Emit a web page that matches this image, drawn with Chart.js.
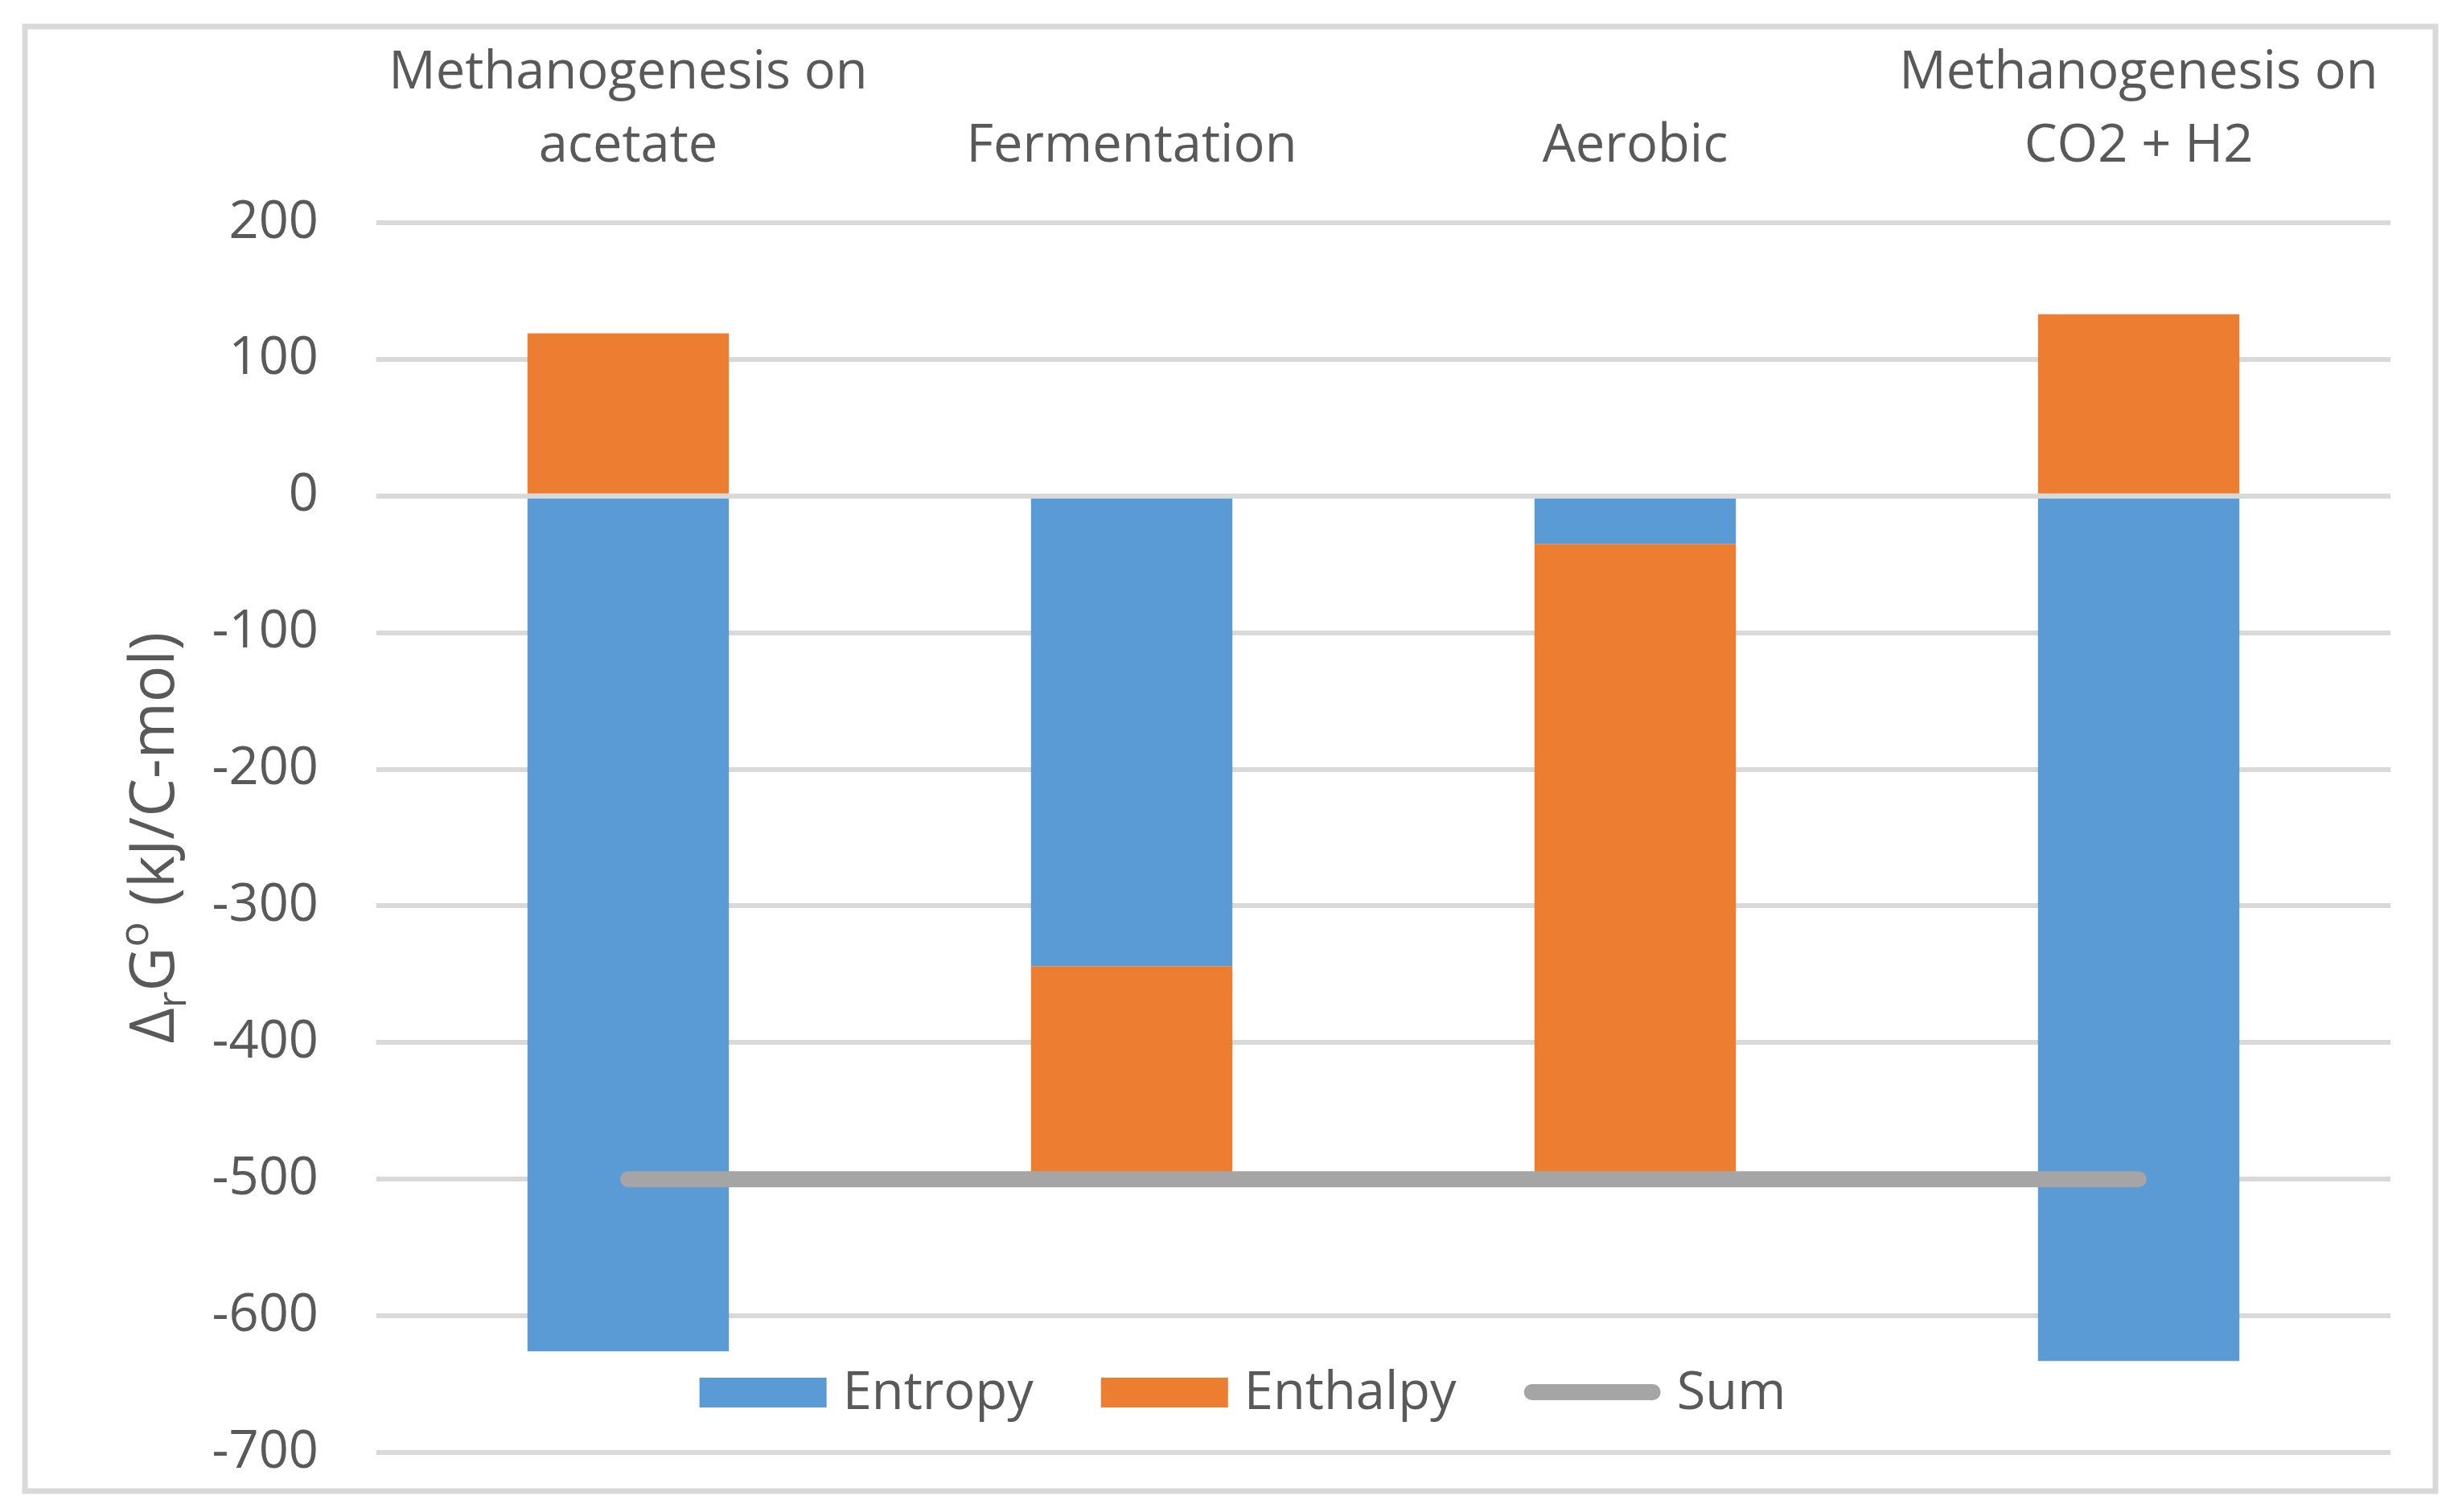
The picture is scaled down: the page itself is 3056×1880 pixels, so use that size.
<!DOCTYPE html>
<html lang="en">
<head>
  <meta charset="UTF-8" />
  <title>Reaction Gibbs energy</title>
  <script src="https://cdn.jsdelivr.net/npm/chart.js"></script>
  <style>
    html, body { margin: 0; padding: 0; background: #fff; }
    canvas { display: block; }
  </style>
</head>
<body>
  <canvas id="chart" width="3056" height="1880"></canvas>

  <script>
    // data
    const categories = [['Methanogenesis on', 'acetate'], 'Fermentation', 'Aerobic', ['Methanogenesis on', 'CO2 + H2']];
    const entropy = [-626, -344, -35, -633];
    const enthalpy = [119, -156, -465, 133];
    const sum = [-500, -500, -500, -500];
    const yMin = -700, yMax = 200, yStep = 100;

    const TEXT = '#595959';
    const GRID = '#d9d9d9';
    const FONT = "'Open Sans', 'Noto Sans', sans-serif";

    // white background + light frame
    const framePlugin = {
      id: 'frame',
      beforeDraw(chart) {
        const ctx = chart.ctx;
        ctx.save();
        ctx.fillStyle = '#fff';
        ctx.fillRect(0, 0, chart.width, chart.height);
        ctx.strokeStyle = GRID;
        ctx.lineWidth = 7;
        ctx.strokeRect(31, 33, 3028 - 31, 1854 - 33);
        ctx.restore();
      }
    };

    // zero line sits on top of the bars
    const zeroLine = {
      id: 'zeroLine',
      afterDatasetsDraw(chart) {
        const { ctx, chartArea, scales } = chart;
        const y = scales.y.getPixelForValue(0);
        ctx.save();
        ctx.strokeStyle = GRID;
        ctx.lineWidth = 6;
        ctx.beginPath();
        ctx.moveTo(chartArea.left, y);
        ctx.lineTo(chartArea.right, y);
        ctx.stroke();
        ctx.restore();
      }
    };

    // rotated axis title with sub/superscript
    const yTitle = {
      id: 'yTitle',
      afterDraw(chart) {
        const ctx = chart.ctx;
        const parts = [
          { t: 'Δ', size: 76, dy: 0 },
          { t: 'r', size: 50, dy: 15 },
          { t: 'G', size: 76, dy: 0 },
          { t: 'o', size: 52, dy: -32 },
          { t: ' (kJ/C-mol)', size: 76, dy: 0 }
        ];
        ctx.save();
        let total = 0;
        parts.forEach(p => {
          ctx.font = `${p.size}px ${FONT}`;
          p.w = ctx.measureText(p.t).width;
          total += p.w;
        });
        ctx.translate(216, (chart.chartArea.top + chart.chartArea.bottom) / 2);
        ctx.rotate(-Math.PI / 2);
        ctx.fillStyle = TEXT;
        ctx.textBaseline = 'alphabetic';
        let x = -total / 2;
        parts.forEach(p => {
          ctx.font = `${p.size}px ${FONT}`;
          ctx.fillText(p.t, x, p.dy);
          x += p.w;
        });
        ctx.restore();
      }
    };

    // legend drawn inside the plot, near the bottom
    const insideLegend = {
      id: 'insideLegend',
      afterDraw(chart) {
        const ctx = chart.ctx;
        const cy = 1731, gapText = 20, gapItem = 84;
        ctx.save();
        ctx.font = `65px ${FONT}`;
        const items = chart.data.datasets.map(ds => ({
          label: ds.label,
          isLine: ds.type === 'line',
          color: ds.type === 'line' ? ds.borderColor : ds.backgroundColor,
          sw: ds.type === 'line' ? 170 : 158
        }));
        let total = 0;
        items.forEach((it, i) => {
          it.tw = ctx.measureText(it.label).width;
          total += it.sw + gapText + it.tw + (i < items.length - 1 ? gapItem : 0);
        });
        let x = 1545 - total / 2;
        ctx.textBaseline = 'middle';
        items.forEach(it => {
          if (it.isLine) {
            ctx.strokeStyle = it.color;
            ctx.lineWidth = 20;
            ctx.lineCap = 'round';
            ctx.beginPath();
            ctx.moveTo(x + 10, cy);
            ctx.lineTo(x + it.sw - 10, cy);
            ctx.stroke();
          } else {
            ctx.fillStyle = it.color;
            ctx.fillRect(x, cy - 18, it.sw, 37);
          }
          x += it.sw + gapText;
          ctx.fillStyle = TEXT;
          ctx.fillText(it.label, x, cy + 2);
          x += it.tw + gapItem;
        });
        ctx.restore();
      }
    };

    new Chart(document.getElementById('chart').getContext('2d'), {
      data: {
        labels: categories,
        datasets: [
          {
            type: 'bar',
            label: 'Entropy',
            data: entropy,
            backgroundColor: '#5b9bd5',
            stack: 'bars',
            order: 1
          },
          {
            type: 'bar',
            label: 'Enthalpy',
            data: enthalpy,
            backgroundColor: '#ed7d31',
            stack: 'bars',
            order: 1
          },
          {
            type: 'line',
            label: 'Sum',
            data: sum,
            borderColor: '#a5a5a5',
            borderWidth: 20,
            borderCapStyle: 'round',
            pointRadius: 0,
            stack: 'sum',
            order: 0
          }
        ]
      },
      options: {
        responsive: false,
        devicePixelRatio: 1,
        animation: false,
        layout: { padding: { left: 0, top: 0, right: 84, bottom: 74 } },
        datasets: {
          bar: { barPercentage: 0.4, categoryPercentage: 1.0, borderWidth: 0 }
        },
        plugins: {
          legend: { display: false },
          tooltip: { enabled: false }
        },
        scales: {
          x: {
            position: 'top',
            stacked: true,
            grid: { display: false },
            border: { display: false },
            ticks: {
              color: TEXT,
              font: { family: FONT, size: 65, lineHeight: 1.4 },
              maxRotation: 0,
              autoSkip: false,
              padding: 41
            },
            afterFit: scale => { scale.height = 277; }
          },
          y: {
            stacked: true,
            min: yMin,
            max: yMax,
            grid: { color: GRID, lineWidth: 6, drawTicks: false },
            border: { display: false },
            ticks: {
              stepSize: yStep,
              color: TEXT,
              font: { family: FONT, size: 65 },
              padding: 72
            },
            afterFit: scale => {
              scale.width = 468;
              // tick padding would otherwise push the plot bottom up
              scale.paddingTop = 0;
              scale.paddingBottom = 0;
            }
          }
        }
      },
      plugins: [framePlugin, zeroLine, yTitle, insideLegend]
    });
  </script>
</body>
</html>
